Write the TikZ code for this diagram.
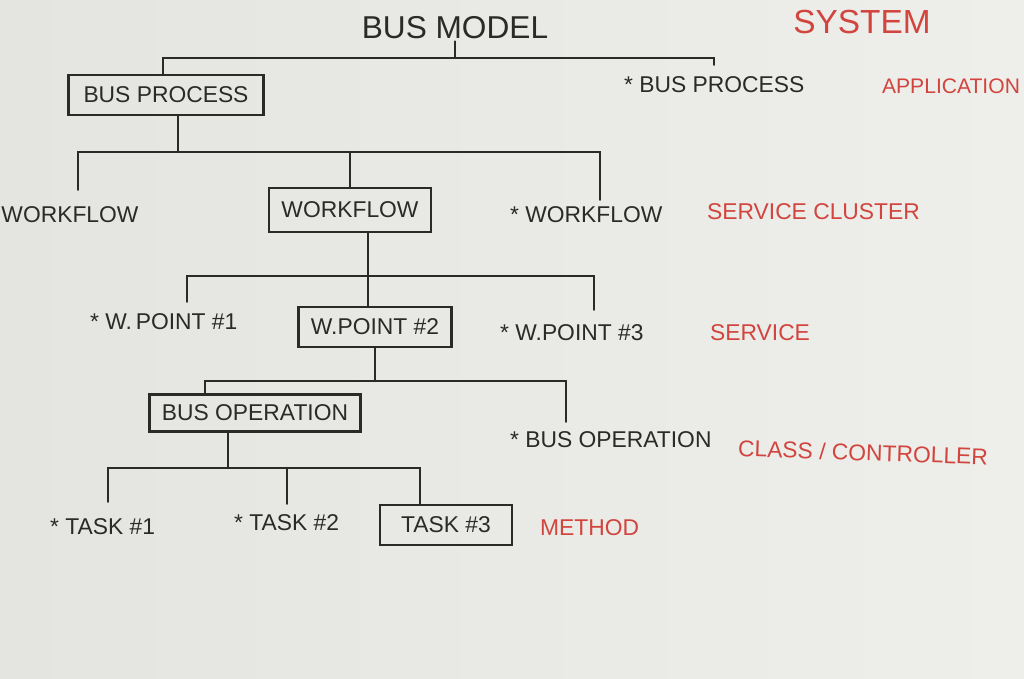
\documentclass[tikz,border=0pt]{standalone}
\usepackage{fontspec}
\setmainfont{Liberation Sans}
\usetikzlibrary{positioning}
\definecolor{board}{RGB}{228,228,224}
\definecolor{boardlight}{RGB}{238,238,235}
\definecolor{ink}{RGB}{42,42,38}
\definecolor{redink}{RGB}{210,68,62}

\begin{document}
\begin{tikzpicture}[
  x=0.02cm, y=-0.02cm,
  every node/.style={font=\fontsize{13}{15}\selectfont, text=ink, inner sep=1pt},
  title/.style={font=\fontsize{18}{20}\selectfont},
  tag/.style={text=redink},
  box/.style={
    draw=ink, line width=1.3pt,
    inner xsep=7pt, inner ysep=6pt},
  wire/.style={draw=ink, line width=1.2pt, line cap=round},
]

% whiteboard
\shade[left color=board, right color=boardlight] (0,0) rectangle (1024,679);
\useasboundingbox (0,0) rectangle (1024,679);

% level 0
\node[title] (model) at (455,28) {BUS MODEL};
\node[tag, font=\fontsize{19}{21}\selectfont] (system) at (862,22) {SYSTEM};

% level 1
\node[box, minimum width=3.9cm, minimum height=0.8cm] (proc) at (166,95) {BUS PROCESS};
\node[anchor=west] (procx) at (622,85) {* BUS PROCESS};
\node[tag, anchor=west, font=\fontsize{12}{14}\selectfont] (app) at (880,86) {APPLICATION};

% level 2
\node (wf1) at (70,215) {WORKFLOW};
\node[box, minimum width=3.2cm, minimum height=0.88cm] (wf2) at (350,210) {WORKFLOW};
\node[anchor=west] (wf3) at (508,215) {* WORKFLOW};
\node[tag, anchor=west] (cluster) at (705,212) {SERVICE CLUSTER};

% level 3
\node[anchor=west] (wp1) at (88,322) {* W.\,POINT \#1};
\node[box, minimum width=3cm, minimum height=0.8cm] (wp2) at (375,327) {W.POINT \#2};
\node[anchor=west] (wp3) at (498,333) {* W.POINT \#3};
\node[tag, anchor=west] (service) at (708,333) {SERVICE};

% level 4
\node[box, minimum width=4cm, minimum height=0.64cm] (op) at (255,413) {BUS OPERATION};
\node[anchor=west] (opx) at (508,440) {* BUS OPERATION};
\node[tag, anchor=west, rotate=-2] (ctrl) at (736,448) {CLASS / CONTROLLER};

% level 5
\node[anchor=west] (t1) at (48,527) {* TASK \#1};
\node[anchor=west] (t2) at (232,523) {* TASK \#2};
\node[box, minimum width=2.64cm, minimum height=0.8cm] (t3) at (446,525) {TASK \#3};
\node[tag, anchor=west] (method) at (538,528) {METHOD};

% bars
\coordinate (bar1) at (455,58);
\coordinate (bar2) at (178,152);
\coordinate (bar3) at (368,276);
\coordinate (bar4) at (375,381);
\coordinate (bar5) at (228,468);

\draw[wire] (model.south) -- (model.south |- bar1);
\draw[wire] ([xshift=-0.06cm]proc.north) |- (bar1) -| ([yshift=0.2cm]procx.north);

\draw[wire] (proc.south -| bar2) -- (bar2);
\draw[wire] ([xshift=0.16cm,yshift=0.3cm]wf1.north) |- (bar2) -| ([xshift=0.28cm,yshift=0.1cm]wf3.north);
\draw[wire] (wf2.north) -- (wf2.north |- bar2);

\draw[wire] (wf2.south -| bar3) -- (bar3);
\draw[wire] ([xshift=0.46cm,yshift=0.2cm]wp1.north) |- (bar3) -| ([xshift=0.44cm,yshift=0.26cm]wp3.north);
\draw[wire] (wp2.north -| bar3) -- (bar3);

\draw[wire] (wp2.south) -- (wp2.south |- bar4);
\draw[wire] ([xshift=-1cm]op.north) |- (bar4) -| ([xshift=-0.9cm,yshift=0.16cm]opx.north);

\draw[wire] (op.south -| bar5) -- (bar5);
\draw[wire] ([xshift=0.1cm,yshift=0.3cm]t1.north) |- (bar5) -| ([xshift=-0.52cm]t3.north);
\draw[wire] ([yshift=0.18cm]t2.north) -- (t2.north |- bar5);

\end{tikzpicture}
\end{document}
